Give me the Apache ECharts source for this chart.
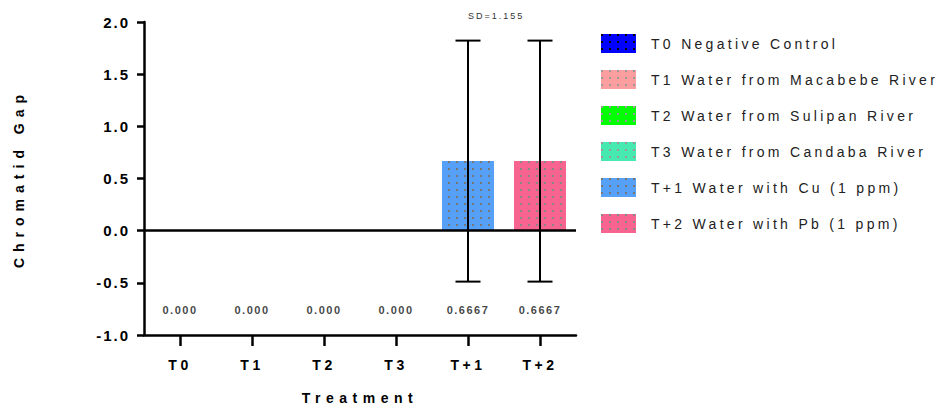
<!DOCTYPE html>
<html>
<head>
<meta charset="utf-8">
<script src="https://cdn.jsdelivr.net/npm/echarts@6/dist/echarts.min.js"></script>
<style>
  html, body { margin: 0; padding: 0; background: #fff; }
  #chart { width: 946px; height: 408px; letter-spacing: 2px; }
</style>
</head>
<body>
<div id="chart"></div>
<script>
// data
const categories = ['T0', 'T1', 'T2', 'T3', 'T+1', 'T+2'];
const seriesNames = [
  'T0 Negative Control',
  'T1 Water from Macabebe River',
  'T2 Water from Sulipan River',
  'T3 Water from Candaba River',
  'T+1 Water with Cu (1 ppm)',
  'T+2 Water with Pb (1 ppm)'
];
const means = [0, 0, 0, 0, 0.6667, 0.6667];
const sds = [0, 0, 0, 0, 1.155, 1.155];
const valueLabels = ['0.000', '0.000', '0.000', '0.000', '0.6667', '0.6667'];
const sdNote = 'SD=1.155';

// styles
const colors = ['#0000ff', '#ff9e9e', '#00ff00', '#46eab0', '#56a0f7', '#f7648f'];
const dotColors = ['#000', '#999', '#999', '#999', '#777', '#888'];
const font = 'Liberation Sans, Arial, sans-serif';
const LABEL_Y = -0.76; // where the value text row sits

let myChart = echarts.init(document.getElementById('chart'), null, { renderer: 'svg' });

const barSeries = categories.map((c, i) => ({
  name: seriesNames[i],
  type: 'bar',
  stack: 'all',
  barWidth: 52,
  data: means.map((v, j) => (j === i ? v : '-')),
  itemStyle: {
    color: colors[i],
    decal: {
      symbol: 'rect',
      symbolSize: 1,
      dashArrayX: [1.5, 5.5],
      dashArrayY: [1.5, 4.5],
      color: dotColors[i]
    }
  }
}));

const errData = [];
means.forEach((m, i) => {
  if (sds[i] > 0) errData.push([i, m - sds[i], m + sds[i]]);
});

let option = {
  backgroundColor: '#fff',
  animation: false,
  textStyle: { fontFamily: font },
  grid: { left: 144, right: 370, top: 22, bottom: 73, containLabel: false, outerBoundsMode: 'none' },
  legend: {
    data: seriesNames,
    orient: 'vertical',
    left: 601,
    top: 34,
    padding: 0,
    icon: 'rect',
    itemWidth: 35,
    itemHeight: 19,
    itemGap: 17,
    selectedMode: false,
    textStyle: { fontSize: 14, color: '#222', fontFamily: font, padding: [0, 0, 0, 10] }
  },
  graphic: [{
    type: 'text',
    left: 468,
    top: 11,
    style: { text: sdNote, fontSize: 9, fill: '#333', fontFamily: font }
  }],
  xAxis: {
    type: 'category',
    data: categories,
    name: 'Treatment',
    nameLocation: 'middle',
    nameGap: 56,
    nameTextStyle: { fontSize: 14, fontWeight: 'bold', color: '#000' },
    axisLine: { onZero: false, lineStyle: { color: '#000', width: 2.5 } },
    axisTick: { show: true, alignWithLabel: true, length: 11, lineStyle: { color: '#000', width: 2.5 } },
    axisLabel: { margin: 23, fontSize: 14, fontWeight: 'bold', color: '#000' },
    splitLine: { show: false }
  },
  yAxis: {
    type: 'value',
    min: -1,
    max: 2,
    interval: 0.5,
    name: 'Chromatid Gap',
    nameLocation: 'middle',
    nameGap: 118,
    nameTextStyle: { fontSize: 14, fontWeight: 'bold', color: '#000' },
    axisLine: { show: true, lineStyle: { color: '#000', width: 2.5 } },
    axisTick: { show: true, length: 7, lineStyle: { color: '#000', width: 2.5 } },
    axisLabel: {
      margin: 14,
      fontSize: 15,
      fontWeight: 'bold',
      color: '#000',
      formatter: v => v.toFixed(1)
    },
    splitLine: { show: false }
  },
  series: [
    ...barSeries,
    {
      name: 'labels',
      type: 'scatter',
      symbolSize: 0,
      silent: true,
      data: categories.map((c, i) => [i, LABEL_Y]),
      label: {
        show: true,
        position: 'inside',
        formatter: p => valueLabels[p.dataIndex],
        fontSize: 11,
        fontWeight: 'bold',
        color: '#111'
      },
      z: 5
    },
    {
      name: 'sd',
      type: 'custom',
      silent: true,
      data: errData,
      renderItem: function (params, api) {
        const x = api.value(0);
        const lo = api.coord([x, api.value(1)]);
        const hi = api.coord([x, api.value(2)]);
        const hw = 12.5;
        const st = { stroke: '#000', lineWidth: 2 };
        return {
          type: 'group',
          children: [
            { type: 'line', shape: { x1: hi[0], y1: hi[1], x2: lo[0], y2: lo[1] }, style: st },
            { type: 'line', shape: { x1: hi[0] - hw, y1: hi[1], x2: hi[0] + hw, y2: hi[1] }, style: st },
            { type: 'line', shape: { x1: lo[0] - hw, y1: lo[1], x2: lo[0] + hw, y2: lo[1] }, style: st }
          ]
        };
      },
      markLine: {
        silent: true,
        symbol: ['none', 'none'],
        label: { show: false },
        lineStyle: { color: '#000', width: 2.5, type: 'solid' },
        data: [{ yAxis: 0 }]
      },
      z: 4
    }
  ]
};
option && myChart.setOption(option);

// the original export spaces its letters out; svg text takes css letter-spacing
function spaceText() {
  document.querySelectorAll('#chart text').forEach(t => {
    const s = t.textContent;
    if (s === 'Chromatid Gap') t.style.letterSpacing = '6px';
    else if (s === 'Treatment') t.style.letterSpacing = '5.5px';
    else if (seriesNames.indexOf(s) >= 0) t.style.letterSpacing = '3.3px';
    else if (valueLabels.indexOf(s) >= 0) t.style.letterSpacing = '1.5px';
    else if (categories.indexOf(s) >= 0) t.style.letterSpacing = '3.5px';
  });
}
spaceText();
myChart.on('finished', spaceText);
</script>
</body>
</html>
